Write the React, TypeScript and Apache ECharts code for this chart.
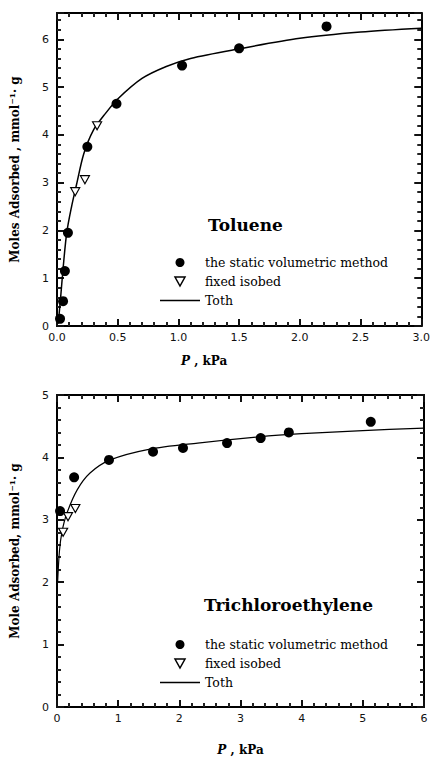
import React, { useEffect, useRef } from "react";
import * as echarts from "echarts";

// Toluene (top panel)
const tolStaticP = [0.025, 0.05, 0.065, 0.09, 0.25, 0.49, 1.03, 1.5, 2.22];
const tolStaticQ = [0.15, 0.52, 1.15, 1.95, 3.75, 4.65, 5.45, 5.81, 6.27];
const tolIsobedP = [0.15, 0.23, 0.33];
const tolIsobedQ = [2.81, 3.06, 4.19];
const tolTothP = [0.01, 0.03, 0.05, 0.08, 0.12, 0.16, 0.22, 0.3, 0.4, 0.5, 0.7, 0.9, 1.1, 1.5, 2.0, 2.5, 3.0];
const tolTothQ = [0.05, 0.6, 1.2, 1.95, 2.5, 2.95, 3.6, 4.1, 4.45, 4.75, 5.18, 5.43, 5.6, 5.8, 6.02, 6.15, 6.23];

// Trichloroethylene (bottom panel)
const tceStaticP = [0.05, 0.28, 0.85, 1.57, 2.06, 2.78, 3.33, 3.79, 5.13];
const tceStaticQ = [3.14, 3.68, 3.96, 4.09, 4.15, 4.23, 4.31, 4.4, 4.57];
const tceIsobedP = [0.1, 0.18, 0.3];
const tceIsobedQ = [2.8, 3.05, 3.18];
const tceTothP = [0.01, 0.04, 0.08, 0.16, 0.33, 0.54, 0.87, 1.5, 2.3, 3.3, 4.0, 5.0, 6.0];
const tceTothQ = [2.0, 2.5, 2.8, 3.1, 3.48, 3.75, 3.96, 4.13, 4.23, 4.33, 4.38, 4.43, 4.47];

const legendNames = ["the static volumetric method", "fixed isobed", "Toth"];
const tri = "path://M0,0L10,0L5,9Z";
const lineIcon = "path://M0,0L40,0L40,1.6L0,1.6Z";

const zip = (xs: number[], ys: number[]) => xs.map((x, i) => [x, ys[i]]);

const SERIF = "DejaVu Serif";
const SANS = "DejaVu Sans";

const mkTick = () => ({ show: true, inside: true, length: 7, lineStyle: { color: "#111", width: 2 } });
const mkMinor = () => ({ show: true, splitNumber: 5, length: 4, lineStyle: { color: "#222", width: 2 } });
const mkLine = () => ({ show: true, onZero: false, lineStyle: { color: "#000", width: 2 } });

function xAxes(gridIndex: number, max: number, interval: number, dec: number, name: string, gap: number, padRight: number) {
  return [
    {
      type: "value", gridIndex, position: "bottom", min: 0, max, interval,
      axisLine: mkLine(), axisTick: mkTick(), minorTick: mkMinor(), splitLine: { show: false },
      axisLabel: { color: "#111", fontFamily: SANS, fontSize: 11, margin: 6, formatter: (v: number) => v.toFixed(dec) },
      name, nameLocation: "middle", nameGap: gap,
      nameTextStyle: {
        fontFamily: SERIF, fontWeight: "bold", fontSize: 12, color: "#000", padding: [0, padRight, 0, 0],
        rich: { i: { fontFamily: SERIF, fontStyle: "italic", fontWeight: "bold", fontSize: 12 } },
      },
    },
    {
      type: "value", gridIndex, position: "top", min: 0, max, interval,
      axisLine: mkLine(), axisTick: mkTick(), minorTick: mkMinor(), splitLine: { show: false }, axisLabel: { show: false },
    },
  ];
}

function yAxes(gridIndex: number, max: number, name: string, gap: number) {
  return [
    {
      type: "value", gridIndex, position: "left", min: 0, max, interval: 1,
      axisLine: mkLine(), axisTick: mkTick(), minorTick: mkMinor(), splitLine: { show: false },
      axisLabel: {
        color: "#111", fontFamily: SANS, fontSize: 11, margin: 8,
        formatter: (v: number) => (Math.abs(v - Math.round(v)) < 1e-6 ? String(Math.round(v)) : ""),
      },
      name, nameLocation: "middle", nameGap: gap, nameRotate: 90,
      nameTextStyle: { fontFamily: SERIF, fontWeight: "bold", fontSize: 12, color: "#000" },
    },
    {
      type: "value", gridIndex, position: "right", min: 0, max, interval: 1,
      axisLine: mkLine(), axisTick: mkTick(), minorTick: mkMinor(), splitLine: { show: false }, axisLabel: { show: false },
    },
  ];
}

function panelSeries(xi: number, yi: number, sP: number[], sQ: number[], iP: number[], iQ: number[], tP: number[], tQ: number[], lw: number) {
  return [
    {
      type: "line", name: legendNames[2], xAxisIndex: xi, yAxisIndex: yi, data: zip(tP, tQ),
      smooth: 0.3, symbol: "none", showSymbol: false, lineStyle: { color: "#000", width: lw }, itemStyle: { color: "#000" }, z: 2,
    },
    {
      type: "scatter", name: legendNames[0], xAxisIndex: xi, yAxisIndex: yi, data: zip(sP, sQ),
      symbol: "circle", symbolSize: 10, itemStyle: { color: "#000", opacity: 1 }, z: 3,
    },
    {
      type: "scatter", name: legendNames[1], xAxisIndex: xi, yAxisIndex: yi, data: zip(iP, iQ),
      symbol: tri, symbolSize: 9, symbolKeepAspect: true,
      itemStyle: { color: "#fff", borderColor: "#000", borderWidth: 1.2, opacity: 1 }, z: 4,
    },
  ];
}

function legendAt(top: number) {
  return {
    left: 155, top, orient: "vertical", itemWidth: 40, itemHeight: 9, itemGap: 6,
    selectedMode: false,
    data: [
      { name: legendNames[0], icon: "circle", itemStyle: { color: "#000" } },
      { name: legendNames[1], icon: tri, itemStyle: { color: "#fff", borderColor: "#000", borderWidth: 1.5 } },
      { name: legendNames[2], icon: lineIcon, itemStyle: { color: "#000", borderWidth: 0 } },
    ],
    textStyle: { fontFamily: SERIF, fontSize: 12.5, color: "#000" },
  };
}

export default function App() {
  const ref = useRef<HTMLDivElement>(null);
  useEffect(() => {
    if (!ref.current) return;
    const chart = echarts.init(ref.current, null, { renderer: "svg" });
    chart.setOption({
      animation: false,
      grid: [
        { left: 57, top: 13, width: 366, height: 313 },
        { left: 57, top: 395, width: 367, height: 313 },
      ],
      xAxis: [
        ...xAxes(0, 3, 0.5, 1, "{i|P} , kPa", 29, 70),
        ...xAxes(1, 6, 1, 0, "{i|P} , kPa", 37, 0),
      ],
      yAxis: [
        ...yAxes(0, 6.55, "Moles Adsorbed , mmol⁻¹· g", 36),
        ...yAxes(1, 5, "Mole Adsorbed, mmol⁻¹· g", 36),
      ],
      title: [
        { text: "Toluene", left: 203, top: 211, textStyle: { fontFamily: SERIF, fontWeight: "bold", fontSize: 17, color: "#000" } },
        { text: "Trichloroethylene", left: 199, top: 591, textStyle: { fontFamily: SERIF, fontWeight: "bold", fontSize: 17, color: "#000" } },
      ],
      legend: [legendAt(251), legendAt(633)],
      series: [
        ...panelSeries(0, 0, tolStaticP, tolStaticQ, tolIsobedP, tolIsobedQ, tolTothP, tolTothQ, 1.5),
        ...panelSeries(2, 2, tceStaticP, tceStaticQ, tceIsobedP, tceIsobedQ, tceTothP, tceTothQ, 1.2),
      ],
    });
    return () => chart.dispose();
  }, []);
  return (
    <div
      ref={ref}
      style={{ position: "absolute", left: 0, top: 0, width: 433, height: 757, background: "#fff" }}
    />
  );
}
